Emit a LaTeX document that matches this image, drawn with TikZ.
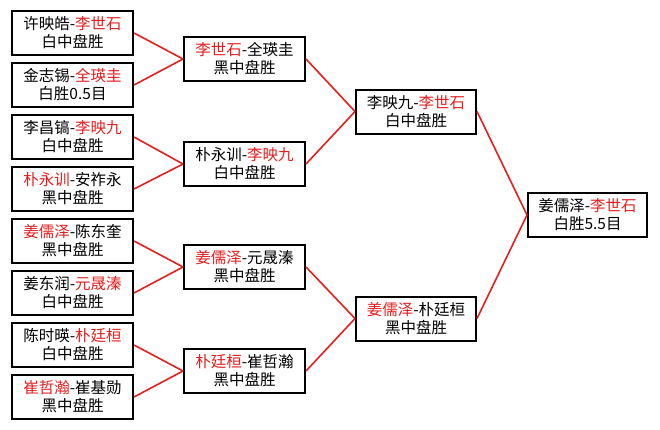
\documentclass[tikz,border=0pt]{standalone}
\usepackage{fontspec}
\setmainfont{Noto Sans CJK SC}
\usepackage{xcolor}
\usepackage{tikz}
\usetikzlibrary{positioning}
\definecolor{winred}{RGB}{230,30,30}
\newcommand{\win}[1]{\textcolor{winred}{#1}}

\begin{document}
\begin{tikzpicture}[x=1pt, y=-1pt,
    game/.style={draw, line width=2pt, fill=white, minimum width=121pt, minimum height=44pt,
                 inner sep=1pt, align=center, font=\fontsize{15.5}{18}\selectfont},
    link/.style={draw=winred, line width=1.6pt}]
        % Hintergrund / Rand
        \path[use as bounding box] (0,0) rectangle (660,429);
        % erste Runde
        \node[game] (g1) at (72.5,33)  {许映皓-\win{李世石}\\白中盘胜};
        \node[game] (g2) at (72.5,85)  {金志锡-\win{全瑛圭}\\白胜0.5目};
        \node[game] (g3) at (72.5,137) {李昌镐-\win{李映九}\\白中盘胜};
        \node[game] (g4) at (72.5,189) {\win{朴永训}-安祚永\\黑中盘胜};
        \node[game] (g5) at (72.5,241) {\win{姜儒泽}-陈东奎\\黑中盘胜};
        \node[game] (g6) at (72.5,293) {姜东润-\win{元晟溱}\\白中盘胜};
        \node[game] (g7) at (72.5,345) {陈时暎-\win{朴廷桓}\\白中盘胜};
        \node[game] (g8) at (72.5,397) {\win{崔哲瀚}-崔基勋\\黑中盘胜};
        % zweite Runde
        \node[game] (q1) at (244.5,59)  {\win{李世石}-全瑛圭\\黑中盘胜};
        \node[game] (q2) at (244.5,164) {朴永训-\win{李映九}\\白中盘胜};
        \node[game] (q3) at (244.5,267) {\win{姜儒泽}-元晟溱\\黑中盘胜};
        \node[game] (q4) at (244.5,371) {\win{朴廷桓}-崔哲瀚\\黑中盘胜};
        % Halbfinale
        \node[game, minimum width=120pt] (s1) at (416,111.5) {李映九-\win{李世石}\\白中盘胜};
        \node[game, minimum width=120pt] (s2) at (416,318.5) {\win{姜儒泽}-朴廷桓\\黑中盘胜};
        % Finale
        \node[game, minimum width=119pt] (fin) at (587.5,215) {姜儒泽-\win{李世石}\\白胜5.5目};
        
        \draw[link] (g1.east) -- (q1.west);
        \draw[link] (g2.east) -- (q1.west);
        \draw[link] (g3.east) -- (q2.west);
        \draw[link] (g4.east) -- (q2.west);
        \draw[link] (g5.east) -- (q3.west);
        \draw[link] (g6.east) -- (q3.west);
        \draw[link] (g7.east) -- (q4.west);
        \draw[link] (g8.east) -- (q4.west);
        \draw[link] (q1.east) -- (s1.west);
        \draw[link] (q2.east) -- (s1.west);
        \draw[link] (q3.east) -- (s2.west);
        \draw[link] (q4.east) -- (s2.west);
        \draw[link] (s1.east) -- (fin.west);
        \draw[link] (s2.east) -- (fin.west);
    \end{tikzpicture}
\end{document}
